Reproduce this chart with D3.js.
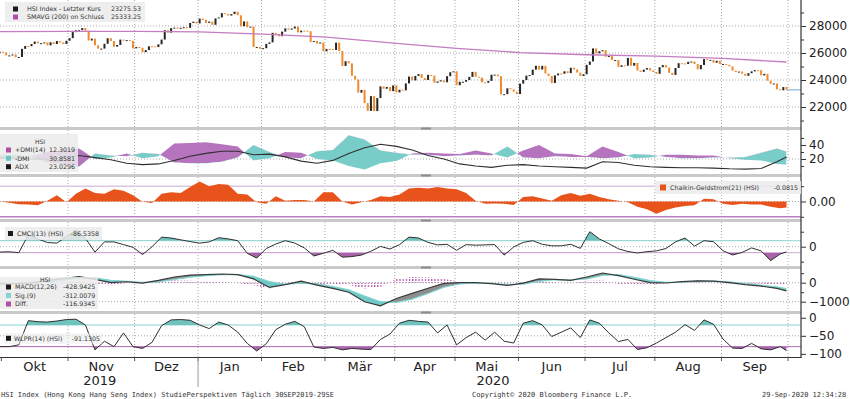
<!DOCTYPE html>
<html>
<head>
<meta charset="utf-8">
<script src="https://cdn.jsdelivr.net/npm/d3@7"></script>
<style>
  body { margin: 0; background: #fff; }
  svg { display: block; }
  text { font-family: "DejaVu Sans", Verdana, sans-serif; }
  .mono { font-family: "DejaVu Sans Mono", monospace; }
</style>
</head>
<body>
<svg id="chart" width="850" height="399"></svg>
<script>
// HSI Schlusskurse je Handelstag, nach Monat
const sep19 = [26092];
const okt19 = [26043, 25821, 25821, 25893, 25683, 25707, 26308, 26521, 26503, 26665, 26848, 26720, 26725, 26786, 26566, 26797, 26667, 26891, 26786, 26667, 26906];
const nov19 = [27101, 27548, 27683, 27688, 27847, 27651, 26926, 27065, 26571, 26323, 26327, 26682, 27094, 26889, 26467, 26596, 26993, 26914, 26954, 26894, 26346];
const dez19 = [26445, 26391, 26063, 26218, 26498, 26494, 26437, 26645, 26995, 27688, 27509, 27843, 27884, 27800, 27871, 27906, 27864, 28225, 28320, 28190];
const jan20 = [28544, 28452, 28226, 28322, 28087, 28561, 28638, 28955, 28885, 28773, 28883, 29056, 28795, 27985, 28341, 27909, 27950, 26449, 26450, 26313];
const feb20 = [26357, 26675, 26787, 27494, 27404, 27241, 27583, 27824, 27730, 27816, 27960, 27530, 27656, 27655, 27609, 26821, 26893, 26697, 26778, 26130];
const mar20 = [26292, 26284, 26222, 26767, 26147, 25040, 25392, 25232, 24310, 24033, 23064, 23264, 22291, 21709, 22805, 21696, 22663, 23527, 23352, 23484, 23175, 23603];
const apr20 = [23085, 23280, 23236, 23749, 24254, 23970, 24300, 24436, 24146, 24006, 24380, 24330, 23794, 23893, 23977, 23832, 24281, 24576, 24644];
const mai20 = [23614, 23868, 23868, 23997, 24231, 24603, 24248, 24180, 23830, 23797, 23935, 24389, 24400, 24280, 22930, 22952, 23385, 23301, 23132, 22961];
const jun20 = [23732, 23996, 24326, 24366, 24770, 25057, 24776, 25049, 24480, 24301, 23777, 24344, 24481, 24465, 24644, 24511, 24907, 24782, 24550, 24301, 24427];
const jul20 = [25124, 25373, 26339, 25976, 26130, 26210, 25727, 25772, 25478, 25481, 24971, 25090, 25058, 25636, 25058, 25263, 24705, 24604, 24772, 24884, 24711, 24595];
const aug20 = [24459, 24947, 25103, 24931, 24532, 24377, 24891, 25245, 25231, 25183, 25348, 25368, 25179, 24792, 25114, 25552, 25487, 25492, 25282, 25423, 25177];
const sep20 = [25185, 25121, 25008, 24696, 24590, 24624, 24470, 24313, 24503, 24640, 24733, 24726, 24341, 24456, 23951, 23717, 23742, 23312, 23236, 23477, 23275];

const monthNames = ["Okt", "Nov", "Dez", "Jan", "Feb", "Mär", "Apr", "Mai", "Jun", "Jul", "Aug", "Sep"];
const yearNames = ["2019", "2020"];

// SMAVG(200) an jedem Monatsanfang + letzter Tag
const smaAvg = [27580, 27580, 27600, 27600, 27560, 27400, 27180, 26720, 26350, 26030, 25870, 25770, 25600, 25333];

const plusDmi = [20, 21, 24, 30, 33, 35, 20, 22, 28, 21, 24, 42, 43, 44, 41, 38, 18, 21, 30, 29, 20, 18, 10, 5, 14, 17, 28, 29, 28, 27, 32, 28, 22, 32, 40, 28, 27, 24, 38, 30, 21, 22, 26, 26, 25, 25, 21, 19, 18, 13, 12.3];
const minusDmi = [26, 26, 23, 15, 12, 9, 28, 25, 24, 29, 27, 15, 14, 14, 16, 22, 40, 30, 22, 21, 31, 33, 54, 48, 32, 29, 26, 26, 24, 25, 26, 25, 38, 22, 21, 24, 23, 23, 21, 22, 27, 26, 23, 21, 21, 22, 22, 23, 29, 35, 30.9];
const adx = [22, 21, 20, 20, 22, 25, 22, 19, 14, 12, 13, 18, 24, 28, 31, 31, 26, 27, 23, 17, 14, 18, 28, 36, 41, 38, 33, 25, 20, 13, 10, 8, 11, 12, 10, 9, 8, 7, 16, 15, 11, 9, 8, 7.5, 7.5, 7, 6, 5.6, 6.5, 16, 23];
const macd = [-60, -50, -5, 120, 210, 320, 175, 0, 50, -20, 120, 300, 395, 430, 458, 420, 200, -250, -100, 80, -130, -300, -500, -1000, -1220, -830, -560, -290, -40, 0, 0, -50, -140, -20, 200, 180, 120, 300, 510, 370, 180, 0, -15, 60, 100, 80, 0, -100, -180, -300, -429];
const macdSig = [-40, -55, -35, 40, 140, 240, 250, 130, 70, 20, 40, 170, 290, 370, 420, 430, 330, 60, -80, -20, -60, -200, -380, -700, -1000, -1030, -860, -570, -240, -60, -15, -30, -100, -70, 70, 160, 150, 200, 390, 420, 280, 110, 20, 30, 80, 90, 40, -50, -130, -220, -312];
const macdDiff = [-20, 5, 30, 80, 70, 80, -75, -130, -20, -40, 80, 130, 105, 60, 38, -10, -130, -310, -20, 100, -70, -100, -120, -300, -220, 200, 300, 280, 200, 60, 15, -20, -40, 50, 130, 20, -30, 100, 120, -50, -100, -110, -35, 30, 20, -10, -40, -50, -50, -80, -117];

const chaikin = [0, -0.015, -0.035, -0.04, -0.05, 0.01, 0.08, -0.01, 0.1, 0.17, 0.11, 0.1, 0.16, 0.14, 0.08, -0.005, -0.02, 0.1, 0.12, 0.11, 0.19, 0.26, 0.2, 0.23, 0.22, 0.1, 0.09, -0.01, -0.03, 0.07, 0.01, 0.02, 0.02, 0, 0.12, 0.12, 0, -0.04, -0.01, 0.02, 0.07, 0.06, 0.09, 0.17, 0.18, 0.17, 0.19, 0.17, 0.16, 0.11, 0.01, -0.03, -0.025, -0.03, -0.045, 0.06, 0.07, 0.04, 0.01, 0.08, 0.11, 0.075, 0.1, 0.06, 0.03, 0.01, -0.01, -0.07, -0.1, -0.16, -0.11, -0.08, -0.06, -0.05, 0.035, 0.03, -0.03, -0.045, -0.03, -0.04, -0.04, -0.07, -0.09, -0.08];
const cmci = [-90, -85, -100, 200, 130, 70, 60, 170, 280, 139, -90, 80, 80, 35, -10, -130, 0, 160, 145, 115, 85, 60, 80, 150, 130, 100, -110, -190, -30, 45, 100, 60, -20, -155, -110, -60, -175, -165, -140, -75, 5, -39, 35, 160, 145, 72, 30, 40, -60, 35, 25, 30, 35, -140, -5, 72, 100, 40, 15, 15, 40, -28, 250, 130, 50, -35, -80, -105, -83, -70, -30, 80, 145, 10, 100, 83, -67, -139, -95, -20, -70, -233, -122, -87];
const wlpr = [-80, -80, -75, -8, -11, -12, -9, -5, -4, -20, -89, -65, -80, -42, -80, -85, -68, -22, -6, -5, -7, -20, -30, -12, -20, -40, -71, -92, -72, -33, -18, -10, -25, -81, -85, -82, -89, -85, -87, -88, -60, -45, -15, -7, -10, -12, -42, -20, -75, -55, -40, -62, -40, -65, -70, -15, -8, -20, -52, -40, -28, -55, -6, -15, -42, -66, -60, -88, -83, -70, -55, -40, -19, -35, -6, -18, -59, -84, -85, -71, -86, -89, -80, -91];

const svg = d3.select("#chart");
const plotRight = 801;

const monthArrays = [okt19, nov19, dez19, jan20, feb20, mar20, apr20, mai20, jun20, jul20, aug20, sep20];
const closes = [].concat(sep19, ...monthArrays);
const n = closes.length;
const monthStarts = [];
let pos = sep19.length;
monthArrays.forEach(m => { monthStarts.push(pos); pos += m.length; });

const grid5 = d3.range(0, n - 3, 5).concat([n - 1]);
const grid3 = d3.range(0, n - 1, 3).concat([n - 1]);

const x = d3.scaleLinear().domain([0, n - 1]).range([-0.2, 786.5]);
const bounds = monthStarts.map(i => x(i - 0.5)).concat([x(n - 0.5)]);

// Panels
const yMain = d3.scaleLinear().domain([20520, 29925]).range([127, 0]);
const yDmi = d3.scaleLinear().domain([-1.4, 60]).range([174, 131]);
const yChk = d3.scaleLinear().domain([-0.229, 0.32]).range([219, 177]);
const yCmci = d3.scaleLinear().domain([-322, 412]).range([266, 222]);
const yMacd = d3.scaleLinear().domain([-1489, 721]).range([311, 269]);
const yWlpr = d3.scaleLinear().domain([-108.7, 10.4]).range([357, 314]);
const panels = [
  { id: "pMain", y: yMain, top: 0, bottom: 127 },
  { id: "pDmi", y: yDmi, top: 130, bottom: 174 },
  { id: "pChk", y: yChk, top: 177, bottom: 219 },
  { id: "pCmci", y: yCmci, top: 222, bottom: 266 },
  { id: "pMacd", y: yMacd, top: 269, bottom: 311 },
  { id: "pWlpr", y: yWlpr, top: 314, bottom: 357 }
];

const defs = svg.append("defs");
panels.forEach(p => {
  defs.append("clipPath").attr("id", p.id).append("rect")
    .attr("x", 0).attr("y", p.top).attr("width", plotRight).attr("height", p.bottom - p.top);
});
function clipArea(id, area, data) {
  defs.append("clipPath").attr("id", id).append("path").attr("d", area(data));
}
const stripes = defs.append("pattern").attr("id", "diffStripes")
  .attr("patternUnits", "userSpaceOnUse").attr("width", 3.17).attr("height", 3);
stripes.append("rect").attr("x", 0).attr("y", 0).attr("width", 1.2).attr("height", 2).attr("fill", "#b04fa8");

// Gitter
panels.forEach(p => {
  const g = svg.append("g").attr("clip-path", `url(#${p.id})`);
  g.selectAll("line.vg").data(bounds.slice(1)).join("line")
    .attr("x1", d => d).attr("x2", d => d).attr("y1", p.top).attr("y2", p.bottom)
    .attr("stroke", "#a8a8a8").attr("stroke-dasharray", "1,2");
});
function hGrid(scale, vals, color, dash, width) {
  svg.append("g").selectAll("line").data(vals).join("line")
    .attr("x1", 0).attr("x2", plotRight).attr("y1", d => scale(d)).attr("y2", d => scale(d))
    .attr("stroke", color).attr("stroke-width", width || 1).attr("stroke-dasharray", dash);
}
hGrid(yMain, [22000, 24000, 26000, 28000], "#a8a8a8", "1,2");
hGrid(yDmi, [20], "#a8a8a8", "1,2");
hGrid(yChk, [0], "#a8a8a8", "1,2");
hGrid(yChk, [0.2], "#dcc6e3", null, 1.5);
hGrid(yChk, [-0.2], "#b87fc2", null, 1.5);
hGrid(yCmci, [0], "#a8a8a8", "1,2");
hGrid(yCmci, [100], "#93d6d6", null);
hGrid(yCmci, [-100], "#cfa9d6", null);
hGrid(yMacd, [0, -1000], "#a8a8a8", "1,2");
hGrid(yWlpr, [-50], "#a8a8a8", "1,2");
hGrid(yWlpr, [-20], "#88d0d0", null);
hGrid(yWlpr, [-80], "#b36cb8", null);

// Hauptchart: Kerzen + SMAVG
const gMain = svg.append("g").attr("clip-path", "url(#pMain)");
const candles = closes.map((c, i) => ({ i, o: i ? closes[i - 1] : c, c }));
gMain.selectAll("rect.candle").data(candles).join("rect")
  .attr("class", "candle")
  .attr("x", d => x(d.i) - 1).attr("width", 2)
  .attr("y", d => yMain(Math.max(d.o, d.c)))
  .attr("height", d => Math.max(1, Math.abs(yMain(d.o) - yMain(d.c))))
  .attr("fill", d => d.c >= d.o ? "#262626" : "#f08a2a");
const smaIdx = [0].concat(monthStarts, [n - 1]);
gMain.append("path")
  .datum(smaIdx.map((d, k) => [d, smaAvg[k]]))
  .attr("fill", "none").attr("stroke", "#c47cc2").attr("stroke-width", 1.3)
  .attr("d", d3.line().x(d => x(d[0])).y(d => yMain(d[1])));
svg.append("line")
  .attr("x1", x(n - 1)).attr("x2", plotRight)
  .attr("y1", yMain(closes[n - 1])).attr("y2", yMain(closes[n - 1]))
  .attr("stroke", "#9cc4e4").attr("stroke-width", 1.5);

// DMI
const dmiPts = grid5.map((d, k) => ({ i: d, p: plusDmi[k], m: minusDmi[k], a: adx[k] }));
clipArea("dmiAbove", d3.area().x(d => x(d.i)).y0(130).y1(d => yDmi(d.m)), dmiPts);
clipArea("dmiBelow", d3.area().x(d => x(d.i)).y0(d => yDmi(d.m)).y1(174), dmiPts);
const gDmi = svg.append("g").attr("clip-path", "url(#pDmi)");
const dmiBand = d3.area().x(d => x(d.i)).y0(d => yDmi(d.m)).y1(d => yDmi(d.p));
gDmi.append("path").datum(dmiPts).attr("d", dmiBand).attr("fill", "#b574bd").attr("clip-path", "url(#dmiAbove)");
gDmi.append("path").datum(dmiPts).attr("d", dmiBand).attr("fill", "#78cdc8").attr("clip-path", "url(#dmiBelow)");
gDmi.append("path").datum(dmiPts)
  .attr("fill", "none").attr("stroke", "#303030").attr("stroke-width", 1.1)
  .attr("d", d3.line().x(d => x(d.i)).y(d => yDmi(d.a)));

// Chaikin-Geldstrom
const chkPts = grid3.map((d, k) => ({ i: d, v: chaikin[k] }));
svg.append("g").attr("clip-path", "url(#pChk)").append("path").datum(chkPts)
  .attr("fill", "#e8531c")
  .attr("d", d3.area().x(d => x(d.i)).y0(yChk(0)).y1(d => yChk(d.v)));

// CMCI
const cmciPts = grid3.map((d, k) => ({ i: d, v: cmci[k] }));
defs.append("clipPath").attr("id", "cmciHi").append("rect")
  .attr("x", 0).attr("y", 222).attr("width", plotRight).attr("height", yCmci(100) - 222);
defs.append("clipPath").attr("id", "cmciLo").append("rect")
  .attr("x", 0).attr("y", yCmci(-100)).attr("width", plotRight).attr("height", 266 - yCmci(-100));
const gCmci = svg.append("g").attr("clip-path", "url(#pCmci)");
gCmci.append("path").datum(cmciPts).attr("fill", "#6fc3bc").attr("clip-path", "url(#cmciHi)")
  .attr("d", d3.area().x(d => x(d.i)).y0(yCmci(100)).y1(d => yCmci(d.v)));
gCmci.append("path").datum(cmciPts).attr("fill", "#a963a9").attr("clip-path", "url(#cmciLo)")
  .attr("d", d3.area().x(d => x(d.i)).y0(yCmci(-100)).y1(d => yCmci(d.v)));
gCmci.append("path").datum(cmciPts)
  .attr("fill", "none").attr("stroke", "#303030").attr("stroke-width", 1)
  .attr("d", d3.line().x(d => x(d.i)).y(d => yCmci(d.v)));

// MACD
const macdPts = grid5.map((d, k) => ({ i: d, m: macd[k], s: macdSig[k], h: macdDiff[k] }));
clipArea("sigAbove", d3.area().x(d => x(d.i)).y0(269).y1(d => yMacd(d.s)), macdPts);
clipArea("sigBelow", d3.area().x(d => x(d.i)).y0(d => yMacd(d.s)).y1(311), macdPts);
const gMacd = svg.append("g").attr("clip-path", "url(#pMacd)");
gMacd.append("path").datum(macdPts).attr("fill", "url(#diffStripes)")
  .attr("d", d3.area().x(d => x(d.i)).y0(yMacd(0)).y1(d => yMacd(d.h)));
const macdBand = d3.area().x(d => x(d.i)).y0(d => yMacd(d.s)).y1(d => yMacd(d.m));
gMacd.append("path").datum(macdPts).attr("d", macdBand).attr("fill", "#8e8e8e").attr("clip-path", "url(#sigAbove)");
gMacd.append("path").datum(macdPts).attr("d", macdBand).attr("fill", "#6fcac6").attr("clip-path", "url(#sigBelow)");
gMacd.append("path").datum(macdPts)
  .attr("fill", "none").attr("stroke", "#7fd3d0").attr("stroke-width", 1.2)
  .attr("d", d3.line().x(d => x(d.i)).y(d => yMacd(d.s)));
gMacd.append("path").datum(macdPts)
  .attr("fill", "none").attr("stroke", "#3a3a3a").attr("stroke-width", 1.2)
  .attr("d", d3.line().x(d => x(d.i)).y(d => yMacd(d.m)));

// Williams %R
const wlprPts = grid3.map((d, k) => ({ i: d, v: wlpr[k] }));
defs.append("clipPath").attr("id", "wlprHi").append("rect")
  .attr("x", 0).attr("y", 314).attr("width", plotRight).attr("height", yWlpr(-20) - 314);
defs.append("clipPath").attr("id", "wlprLo").append("rect")
  .attr("x", 0).attr("y", yWlpr(-80)).attr("width", plotRight).attr("height", 357 - yWlpr(-80));
const gW = svg.append("g").attr("clip-path", "url(#pWlpr)");
gW.append("path").datum(wlprPts).attr("fill", "#6fc3bc").attr("clip-path", "url(#wlprHi)")
  .attr("d", d3.area().x(d => x(d.i)).y0(yWlpr(-20)).y1(d => yWlpr(d.v)));
gW.append("path").datum(wlprPts).attr("fill", "#a963a9").attr("clip-path", "url(#wlprLo)")
  .attr("d", d3.area().x(d => x(d.i)).y0(yWlpr(-80)).y1(d => yWlpr(d.v)));
gW.append("path").datum(wlprPts)
  .attr("fill", "none").attr("stroke", "#303030").attr("stroke-width", 1)
  .attr("d", d3.line().x(d => x(d.i)).y(d => yWlpr(d.v)));

// Trennbalken zwischen den Panels
[127, 174, 219, 266, 311].forEach(y => {
  svg.append("rect").attr("x", 0).attr("y", y).attr("width", plotRight).attr("height", 3).attr("fill", "#c9c9c9");
  svg.append("rect").attr("x", 421).attr("y", y + 0.5).attr("width", 10).attr("height", 2).attr("fill", "#8c8c8c");
});

// Rechte Achsen
function rightAxis(scale, major, minor, fmt) {
  const g = svg.append("g").attr("transform", `translate(${plotRight},0)`);
  g.call(d3.axisRight(scale).tickValues(minor).tickSize(3).tickFormat(""));
  const gm = svg.append("g").attr("transform", `translate(${plotRight},0)`);
  gm.call(d3.axisRight(scale).tickValues(major).tickSize(5).tickFormat(fmt));
  [g, gm].forEach(a => {
    a.select(".domain").remove();
    a.selectAll("line").attr("stroke", "#333");
    a.selectAll("text").attr("font-size", 12).attr("fill", "#222")
      .attr("font-family", "DejaVu Sans, Verdana, sans-serif");
  });
}
rightAxis(yMain, [22000, 24000, 26000, 28000], [21000, 23000, 25000, 27000, 29000], d3.format("d"));
rightAxis(yDmi, [20, 40], [10, 30, 50], d3.format("d"));
rightAxis(yChk, [0], [-0.2, 0.2], d3.format(".2f"));
rightAxis(yCmci, [0], [-250, 250], d3.format("d"));
rightAxis(yMacd, [0, -1000], [-500, 500], d3.format("d"));
rightAxis(yWlpr, [0, -50, -100], [], d3.format("d"));
svg.append("line").attr("x1", plotRight).attr("x2", plotRight).attr("y1", 0).attr("y2", 358)
  .attr("stroke", "#333").attr("stroke-width", 1.2);

// Zeitachse
svg.append("line").attr("x1", 0).attr("x2", plotRight + 0.6).attr("y1", 357.5).attr("y2", 357.5)
  .attr("stroke", "#333").attr("stroke-width", 1.2);
svg.append("g").selectAll("line").data(bounds).join("line")
  .attr("x1", d => d).attr("x2", d => d).attr("y1", 357).attr("y2", 361).attr("stroke", "#555");
svg.append("g").selectAll("text").data(monthNames).join("text")
  .attr("x", (d, k) => (bounds[k] + bounds[k + 1]) / 2).attr("y", 370.5)
  .attr("text-anchor", "middle").attr("font-size", 13).attr("fill", "#222").text(d => d);
const yearSpans = [[bounds[0], bounds[3]], [bounds[3], bounds[12]]];
svg.append("g").selectAll("text").data(yearNames).join("text")
  .attr("x", (d, k) => (yearSpans[k][0] + yearSpans[k][1]) / 2).attr("y", 385)
  .attr("text-anchor", "middle").attr("font-size", 13).attr("fill", "#222").text(d => d);
svg.append("line").attr("x1", bounds[3]).attr("x2", bounds[3]).attr("y1", 361).attr("y2", 387)
  .attr("stroke", "#9a9a9a");

// Legenden
const legendFont = 6.3;
function legendBox(x0, y0, w, h, op) {
  svg.append("rect").attr("x", x0).attr("y", y0).attr("width", w).attr("height", h)
    .attr("fill", "#ebebeb").attr("opacity", op || 0.85);
}
function legendRow(sx, cy, color, label, lx, value, vx, anchor) {
  svg.append("rect").attr("x", sx).attr("y", cy - 2.5).attr("width", 5).attr("height", 5).attr("fill", color);
  svg.append("text").attr("x", lx).attr("y", cy + 2.3).attr("font-size", legendFont).attr("fill", "#333").text(label);
  svg.append("text").attr("x", vx).attr("y", cy + 2.3).attr("font-size", legendFont).attr("fill", "#333")
    .attr("text-anchor", anchor || "start").text(value);
}
legendBox(5, 2, 140, 20);
legendRow(13, 9, "#1a1a1a", "HSI Index - Letzter Kurs", 27, "23275.53", 141, "end");
legendRow(13, 17, "#b04fa8", "SMAVG (200) on Schluss", 27, "25333.25", 141, "end");

legendBox(0, 134, 78, 38);
svg.append("text").attr("x", 40).attr("y", 143.5).attr("font-size", 6).attr("fill", "#333")
  .attr("text-anchor", "middle").text("HSI");
legendRow(6, 150, "#b04fa8", "+DMI(14)", 15, "12.3019", 49);
legendRow(6, 158.3, "#6cc7c4", "-DMI", 15, "30.8581", 49);
legendRow(6, 166.7, "#1a1a1a", "ADX", 15, "23.0296", 49);

legendBox(655, 181, 146, 13);
svg.append("rect").attr("x", 660).attr("y", 184.5).attr("width", 6).attr("height", 6).attr("fill", "#e8531c");
svg.append("text").attr("x", 670).attr("y", 190).attr("font-size", legendFont).attr("fill", "#333")
  .text("Chaikin-Geldstrom(21) (HSI)");
svg.append("text").attr("x", 798).attr("y", 190).attr("font-size", legendFont).attr("fill", "#333")
  .attr("text-anchor", "end").text("-0.0815");

legendBox(5, 227, 97, 13);
legendRow(8, 233.5, "#1a1a1a", "CMCI(13) (HSI)", 17, "-86.5358", 99, "end");

legendBox(0, 277, 98, 32);
svg.append("text").attr("x", 45).attr("y", 281.5).attr("font-size", 6).attr("fill", "#333")
  .attr("text-anchor", "middle").text("HSI");
legendRow(6, 287, "#1a1a1a", "MACD(12,26)", 15, "-428.9425", 63);
legendRow(6, 295.5, "#7fd3d0", "Sig.(9)", 15, "-312.0079", 63);
legendRow(6, 304, "#b04fa8", "Diff.", 15, "-116.9345", 63);

legendBox(4, 333, 98, 11, 0.5);
legendRow(6, 338.3, "#1a1a1a", "WLPR(14) (HSI)", 14, "-91.1305", 100, "end");

// Fusszeile
const foot = svg.append("g").attr("font-size", 7).attr("fill", "#333");
foot.append("text").attr("class", "mono").attr("x", 1).attr("y", 397)
  .text("HSI Index (Hong Kong Hang Seng Index) StudiePerspektiven  Täglich 30SEP2019-29SE");
foot.append("text").attr("class", "mono").attr("x", 472).attr("y", 397)
  .text("Copyright© 2020 Bloomberg Finance L.P.");
foot.append("text").attr("class", "mono").attr("x", 762).attr("y", 397)
  .text("29-Sep-2020 12:34:28");
</script>
</body>
</html>
